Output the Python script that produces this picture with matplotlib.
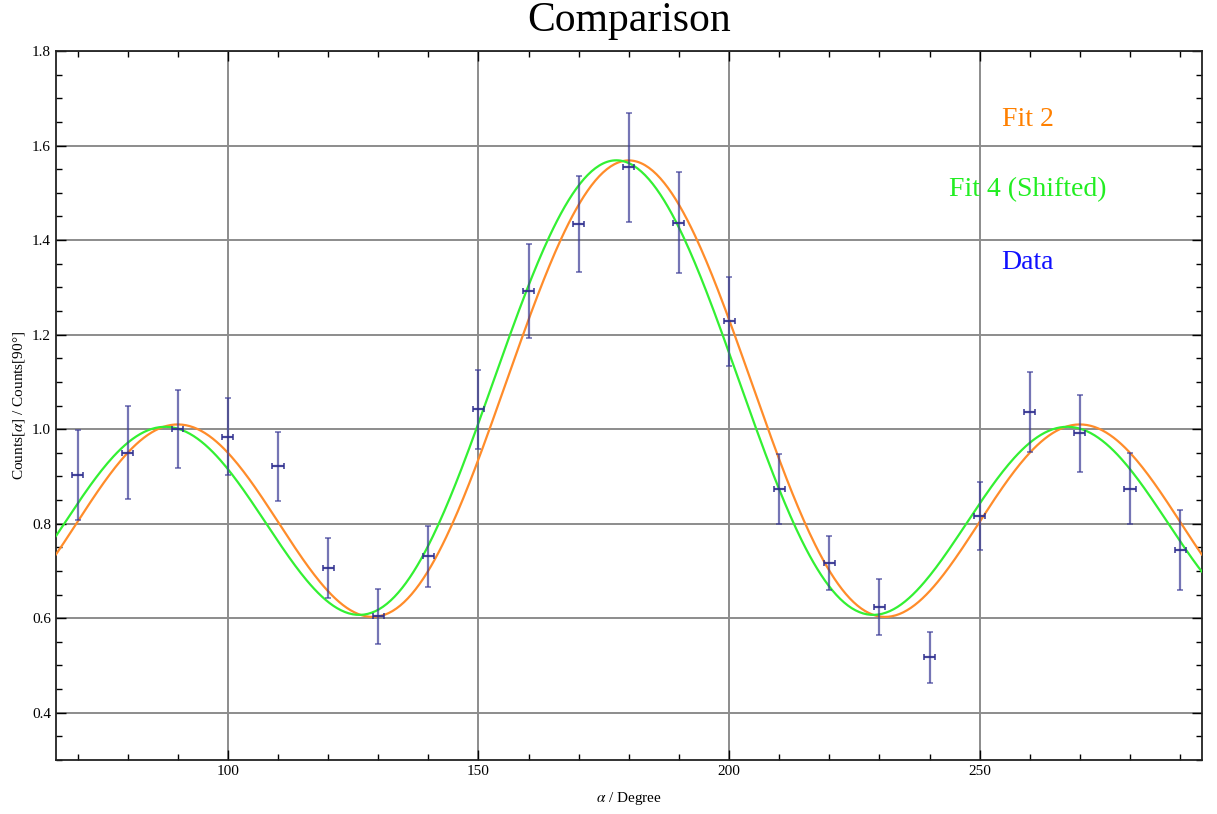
import numpy as np
import matplotlib.pyplot as plt
from matplotlib.ticker import MultipleLocator

# measured data (angle in degrees, normalised counts, errors)
angles = [70, 80, 90, 100, 110, 120, 130, 140, 150, 160, 170, 180,
          190, 200, 210, 220, 230, 240, 250, 260, 270, 280, 290]
counts = [0.903, 0.950, 1.000, 0.984, 0.922, 0.706, 0.604, 0.731, 1.042, 1.292, 1.434, 1.554,
          1.437, 1.228, 0.873, 0.716, 0.624, 0.517, 0.816, 1.036, 0.991, 0.874, 0.745]
count_err = [0.095, 0.098, 0.082, 0.082, 0.073, 0.064, 0.058, 0.065, 0.083, 0.100, 0.102, 0.115,
             0.107, 0.094, 0.074, 0.057, 0.060, 0.053, 0.072, 0.084, 0.082, 0.075, 0.085]
angle_err = 1.1

# fit parameters: A * (1 + a2 cos^2(t - shift) + a4 cos^4(t - shift))
fit2_params = {"A": 1.010, "a2": -2.048, "a4": 2.601, "shift": 0.0}
fit4_params = {"A": 1.005, "a2": -2.023, "a4": 2.584, "shift": -2.5}

serif = ["Liberation Serif", "DejaVu Serif"]
plt.rcParams["font.family"] = serif
plt.rcParams["mathtext.fontset"] = "stix"


def correlation(theta, p):
    c = np.cos(np.radians(theta - p["shift"])) ** 2
    return p["A"] * (1 + p["a2"] * c + p["a4"] * c ** 2)


fig = plt.figure(figsize=(12.17, 8.14), dpi=100)
ax = fig.add_axes([0.046, 0.0663, 0.9414, 0.871])

xmin, xmax = 65.7, 294.3
theta = np.linspace(xmin, xmax, 600)

ax.plot(theta, correlation(theta, fit2_params), color="#ff8c2a", lw=1.6, zorder=3)
ax.plot(theta, correlation(theta, fit4_params), color="#33f033", lw=1.6, zorder=3)

ax.errorbar(angles, counts, yerr=count_err, fmt="none", ecolor="#3a3a96",
            elinewidth=1.6, capsize=2.5, capthick=1.2, alpha=0.7, zorder=4)
ax.errorbar(angles, counts, xerr=angle_err, fmt="none", ecolor="#2f2f8f",
            elinewidth=1.6, capsize=2.5, capthick=1.2, alpha=0.9, zorder=5)

ax.set_xlim(xmin, xmax)
ax.set_ylim(0.3, 1.8)

ax.xaxis.set_major_locator(MultipleLocator(50))
ax.xaxis.set_minor_locator(MultipleLocator(10))
ax.yaxis.set_major_locator(MultipleLocator(0.2))
ax.yaxis.set_minor_locator(MultipleLocator(0.05))
ax.yaxis.set_major_formatter(plt.FuncFormatter(lambda v, _: f"{v:.1f}"))

ax.tick_params(which="both", direction="in", top=True, right=True,
               labelsize=11, colors="black", width=1.0)
ax.tick_params(which="major", length=7)
ax.tick_params(which="minor", length=4)

ax.grid(True, which="major", color="#8c8c8c", lw=1.4)
ax.set_axisbelow(True)
for sp in ax.spines.values():
    sp.set_linewidth(1.3)
    sp.set_color("#222222")

fig.text(0.517, 0.962, "Comparison", fontsize=30, ha="center", va="baseline")
ax.set_xlabel(r"$\alpha$ / Degree", fontsize=11, labelpad=9)
ax.set_ylabel(r"Counts[$\alpha$] / Counts[90°]", fontsize=11, labelpad=4)

ax.text(0.848, 0.903, "Fit 2", color="#ff8000", fontsize=20,
        ha="center", va="center", transform=ax.transAxes)
ax.text(0.848, 0.804, "Fit 4 (Shifted)", color="#22ee22", fontsize=20,
        ha="center", va="center", transform=ax.transAxes)
ax.text(0.848, 0.702, "Data", color="#1010ff", fontsize=20,
        ha="center", va="center", transform=ax.transAxes)

fig.savefig("out.png", dpi=100)
